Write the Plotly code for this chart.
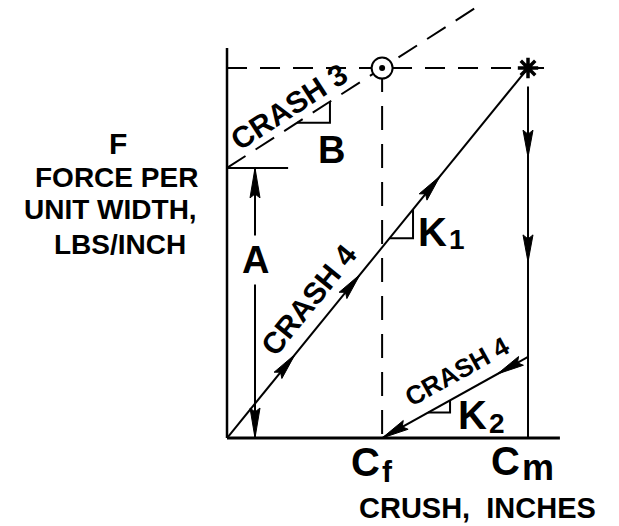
import math
import plotly.graph_objects as go

# Canvas size (px)
W, H = 619, 526

# ---- Crush model, normalised units (peak crush Cm = 1, peak force = 1) ----
crush_max = 1.0          # Cm
force_max = 1.0          # force reached at Cm ("*" point)
intercept_A = 0.73       # CRASH 3 force intercept A
slope_B = 0.524          # CRASH 3 slope B
residual_force = 0.219   # force at Cm on the CRASH 4 unloading line

# Derived quantities
crush_f = (force_max - intercept_A) / slope_B          # Cf, where CRASH 3 meets peak force
k1 = force_max / crush_max                              # loading stiffness
k2 = residual_force / (crush_max - crush_f)            # unloading stiffness

# Drawing extents (normalised units)
x_axis_end = 1.106
y_axis_end = 1.054
peak_line_end = 1.076
crash3_end = 0.824
a_tick_end = 0.203
a_line_x = 0.093

# Arrowhead locations
loading_arrow_frac = [0.226, 0.442, 0.708]
drop_arrow_force = [0.759, 0.476]
unloading_arrow_frac = [0.21, 1.0]

# Slope-triangle extents (crush values)
tri_B = (0.233, 0.342)
tri_K1 = (0.54, 0.618)
tri_K2 = (0.668, 0.741)

# Axis ranges chosen so the origin sits at (227, 438) px
X0, X1 = -0.7542, 1.3023
Y0, Y1 = -0.2378, 1.1838

FONT = "Liberation Sans, Arial, Helvetica, sans-serif"
BLACK = "black"


def to_px(x, y):
    return (x - X0) / (X1 - X0) * W, (Y1 - y) / (Y1 - Y0) * H


def to_data(px, py):
    return X0 + px / W * (X1 - X0), Y1 - py / H * (Y1 - Y0)


def crash3(x):
    return intercept_A + slope_B * x


def unload(x):
    return k2 * (x - crush_f)


fig = go.Figure()


def line(xs, ys, width=2.0, dash=None):
    fig.add_trace(go.Scatter(
        x=xs, y=ys, mode="lines", hoverinfo="skip", showlegend=False,
        line=dict(color=BLACK, width=width, dash=dash)))


# Axes
line([0, 0], [y_axis_end, 0], width=2.5)
line([0, x_axis_end], [0, 0], width=3)

# Peak-force dashed line and CRASH 3 dashed line
line([0, peak_line_end], [force_max, force_max], width=2, dash="20px,13px")
line([0, crash3_end], [crash3(0), crash3(crash3_end)], width=2, dash="22px,12px")

# Vertical dashed line at Cf
line([crush_f, crush_f], [force_max, 0], width=2, dash="24px,14px")

# A: tick and dimension line
line([0, a_tick_end], [intercept_A, intercept_A], width=2)
line([a_line_x, a_line_x], [intercept_A, 0], width=2)

# CRASH 4 loading, drop at Cm, unloading
line([0, crush_max], [0, force_max], width=2)
line([crush_max, crush_max], [force_max - 0.05, 0], width=2)
line([crush_max, crush_f], [residual_force, 0], width=2)

# Slope triangles
for (xa, xb), f in [(tri_B, crash3), (tri_K1, lambda x: k1 * x), (tri_K2, unload)]:
    line([xa, xb, xb], [f(xa), f(xa), f(xb)], width=2)


# Arrowheads as slim darts drawn in pixel space
def dart(tip, tail, length=27, half=5, notch=4):
    tx, ty = to_px(*tip)
    sx, sy = to_px(*tail)
    ux, uy = tx - sx, ty - sy
    n = math.hypot(ux, uy)
    ux, uy = ux / n, uy / n
    nx, ny = -uy, ux
    bx, by = tx - ux * length, ty - uy * length
    mx, my = tx - ux * (length - notch), ty - uy * (length - notch)
    pts = [(tx, ty), (bx + nx * half, by + ny * half), (mx, my),
           (bx - nx * half, by - ny * half), (tx, ty)]
    xs, ys = zip(*[to_data(px, py) for px, py in pts])
    return list(xs), list(ys)


ax, ay = [], []
for f in loading_arrow_frac:
    xs, ys = dart((f * crush_max, f * force_max), (0, 0))
    ax += xs + [None]; ay += ys + [None]
for fv in drop_arrow_force:
    xs, ys = dart((crush_max, fv), (crush_max, force_max))
    ax += xs + [None]; ay += ys + [None]
for f in unloading_arrow_frac:
    xt = crush_max - f * (crush_max - crush_f)
    xs, ys = dart((xt, unload(xt)), (crush_max, residual_force))
    ax += xs + [None]; ay += ys + [None]
xs, ys = dart((a_line_x, intercept_A), (a_line_x, 0), length=30)
ax += xs + [None]; ay += ys + [None]
xs, ys = dart((a_line_x, 0), (a_line_x, intercept_A), length=30)
ax += xs; ay += ys
fig.add_trace(go.Scatter(
    x=ax, y=ay, mode="lines", fill="toself", fillcolor=BLACK,
    line=dict(color=BLACK, width=1), hoverinfo="skip", showlegend=False))

# Circle marking Cf on the peak-force line, and the "*" peak point
fig.add_trace(go.Scatter(
    x=[crush_f], y=[force_max], mode="markers", hoverinfo="skip", showlegend=False,
    marker=dict(symbol="circle", size=21, color="white", line=dict(color=BLACK, width=2))))
fig.add_trace(go.Scatter(
    x=[crush_f], y=[force_max], mode="markers", hoverinfo="skip", showlegend=False,
    marker=dict(symbol="circle", size=6, color=BLACK)))
fig.add_trace(go.Scatter(
    x=[crush_max], y=[force_max], mode="markers", hoverinfo="skip", showlegend=False,
    marker=dict(symbol="asterisk-open", size=17, color=BLACK,
                line=dict(color=BLACK, width=3.5))))


def label(text, x, y, size, angle=0, dx=0, dy=0, bg=None, anchor="center", pad=0):
    fig.add_annotation(
        x=x, y=y, xref="x", yref="y", text=f"<b>{text}</b>", showarrow=False,
        font=dict(family=FONT, size=size, color=BLACK), textangle=angle,
        xanchor=anchor, yanchor="middle", xshift=dx, yshift=dy,
        bgcolor=bg, borderpad=pad)


def label_px(text, px, py, size, bg=None, anchor="center", pad=0):
    x, y = to_data(px, py)
    label(text, x, y, size, bg=bg, anchor=anchor, pad=pad)


def symbol_px(main, sub, px_join, py_main, py_sub, size_main, size_sub):
    # Letter with a subscript set just to its right
    label_px(main, px_join, py_main, size_main, anchor="right")
    label_px(sub, px_join, py_sub, size_sub, anchor="left")


# Labels running along the lines
label("CRASH 3", 0.24, crash3(0.24), 30, angle=-33, dx=-10, dy=15)
fl = 0.333
label("CRASH 4", fl * crush_max, fl * force_max, 30, angle=-51, dx=-18, dy=15)
label("CRASH 4", 0.80, unload(0.80), 26, angle=-29, dx=-10, dy=19)

# Letter labels
label_px("A", 255, 260, 38, bg="white", pad=3)
label_px("B", 331, 150, 38)
symbol_px("K", "1", 448, 232, 239, 40, 28)
symbol_px("K", "2", 488, 415, 423, 40, 28)
symbol_px("C", "f", 381, 462, 471, 40, 30)
symbol_px("C", "m", 521, 461, 467, 40, 36)
label_px("CRUSH,  INCHES", 477, 508, 29)

# Force axis title
label_px("F", 118, 143, 30)
label_px("FORCE PER", 116, 177, 28)
label_px("UNIT WIDTH,", 110, 209, 28)
label_px("LBS/INCH", 120, 244, 28)

fig.update_layout(
    width=W, height=H, margin=dict(l=0, r=0, t=0, b=0),
    paper_bgcolor="white", plot_bgcolor="white", showlegend=False,
    xaxis=dict(range=[X0, X1], visible=False, fixedrange=True),
    yaxis=dict(range=[Y0, Y1], visible=False, fixedrange=True),
)

fig.write_html("out.html")
